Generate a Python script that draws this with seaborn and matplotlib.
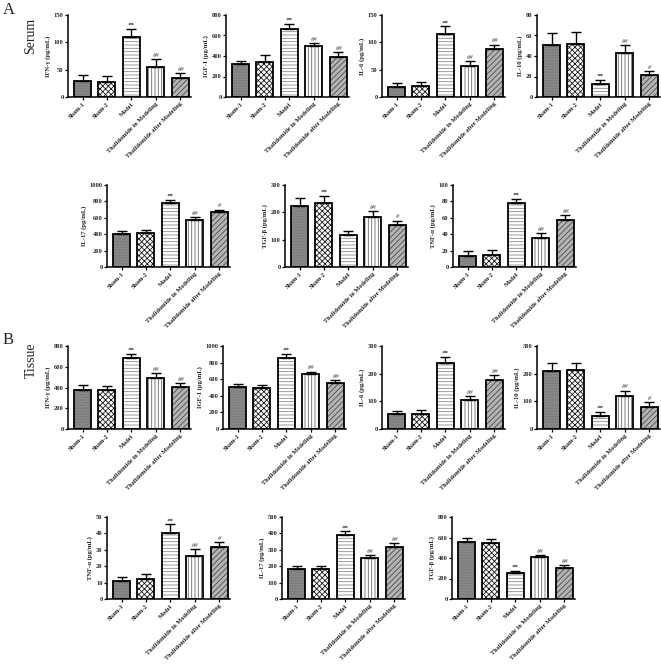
import numpy as np
import pandas as pd
import matplotlib
matplotlib.use("Agg")
import matplotlib.pyplot as plt
import seaborn as sns
from matplotlib.patches import Rectangle

# ---------------- data ----------------
groups = ["Sham-1", "Sham-2", "Model", "Thalidomide in Modeling", "Thalidomide after Modeling"]

# Serum
serum_ifn = [30, 28, 109, 55, 34]
serum_ifn_sd = [10, 11, 16, 15, 10]
serum_ifn_sig = ["", "", "**", "##", "##"]

serum_igf = [325, 340, 660, 495, 390]
serum_igf_sd = [30, 70, 55, 30, 45]
serum_igf_sig = ["", "", "**", "##", "##"]

serum_il6 = [19, 20, 116, 56, 87]
serum_il6_sd = [6, 7, 13, 10, 9]
serum_il6_sig = ["", "", "**", "##", "##"]

serum_il10 = [51, 52, 13, 43, 21.5]
serum_il10_sd = [11, 11, 4, 8, 4]
serum_il10_sig = ["", "", "**", "##", "#"]

serum_il17 = [405, 420, 775, 578, 665]
serum_il17_sd = [28, 30, 40, 32, 35]
serum_il17_sig = ["", "", "**", "##", "#"]

serum_tgf = [223, 235, 118, 184, 154]
serum_tgf_sd = [30, 25, 15, 22, 16]
serum_tgf_sig = ["", "**", "", "##", "#"]

serum_tnf = [13.5, 14.5, 77.5, 35, 57]
serum_tnf_sd = [6, 6, 6, 6, 6]
serum_tnf_sig = ["", "", "**", "##", "##"]

# Tissue
tissue_ifn = [375, 378, 680, 495, 405]
tissue_ifn_sd = [45, 40, 45, 45, 40]
tissue_ifn_sig = ["", "", "**", "##", "##"]

tissue_igf = [505, 490, 860, 660, 550]
tissue_igf_sd = [40, 35, 40, 32, 35]
tissue_igf_sig = ["", "", "**", "##", "##"]

tissue_il6 = [53, 55, 240, 106, 178]
tissue_il6_sd = [11, 12, 20, 14, 16]
tissue_il6_sig = ["", "", "**", "##", "##"]

tissue_il10 = [210, 212, 47, 121, 81]
tissue_il10_sd = [28, 25, 16, 18, 17]
tissue_il10_sig = ["", "", "**", "##", "#"]

tissue_tnf = [11, 12, 40.5, 26, 32]
tissue_tnf_sd = [2.7, 3, 5, 4.3, 2.6]
tissue_tnf_sig = ["", "", "**", "##", "#"]

tissue_il17 = [184, 185, 390, 252, 320]
tissue_il17_sd = [16, 18, 22, 18, 20]
tissue_il17_sig = ["", "", "**", "##", "##"]

tissue_tgf = [555, 548, 250, 405, 305]
tissue_tgf_sd = [40, 35, 25, 20, 22]
tissue_tgf_sig = ["", "", "**", "##", "##"]

# ---------------- style ----------------
sns.set_theme(style="ticks")
plt.rcParams["font.family"] = ["Liberation Serif", "DejaVu Serif"]
plt.rcParams["hatch.linewidth"] = 0.6

face_colors = ["#888888", "#ffffff", "#ffffff", "#ffffff", "#b4b4b4"]
hatches = ["......", "xxxxxx", "-----", "|||||", "//////"]
hatch_colors = ["#727272", "#1a1a1a", "#8a8a8a", "#6a6a6a", "#4a4a4a"]

FW, FH = 661, 668
fig = plt.figure(figsize=(FW / 100, FH / 100), dpi=100)

rows_px = [(15, 97), (185, 267), (346, 429), (517, 599)]
lefts_px = [[68, 226, 382, 537], [107, 285, 453], [68, 223, 382, 537], [107, 282, 452]]
AX_W = 123

panels = [
    [("IFN-γ (pg/mL)", serum_ifn, serum_ifn_sd, serum_ifn_sig, 150, 50),
     ("IGF-1 (pg/mL)", serum_igf, serum_igf_sd, serum_igf_sig, 800, 200),
     ("IL-6 (pg/mL)", serum_il6, serum_il6_sd, serum_il6_sig, 150, 50),
     ("IL-10 (pg/mL)", serum_il10, serum_il10_sd, serum_il10_sig, 80, 20)],
    [("IL-17 (pg/mL)", serum_il17, serum_il17_sd, serum_il17_sig, 1000, 200),
     ("TGF-β (pg/mL)", serum_tgf, serum_tgf_sd, serum_tgf_sig, 300, 100),
     ("TNF-α (pg/mL)", serum_tnf, serum_tnf_sd, serum_tnf_sig, 100, 20)],
    [("IFN-γ (pg/mL)", tissue_ifn, tissue_ifn_sd, tissue_ifn_sig, 800, 200),
     ("IGF-1 (pg/mL)", tissue_igf, tissue_igf_sd, tissue_igf_sig, 1000, 200),
     ("IL-6 (pg/mL)", tissue_il6, tissue_il6_sd, tissue_il6_sig, 300, 100),
     ("IL-10 (pg/mL)", tissue_il10, tissue_il10_sd, tissue_il10_sig, 300, 100)],
    [("TNF-α (pg/mL)", tissue_tnf, tissue_tnf_sd, tissue_tnf_sig, 50, 10),
     ("IL-17 (pg/mL)", tissue_il17, tissue_il17_sd, tissue_il17_sig, 500, 100),
     ("TGF-β (pg/mL)", tissue_tgf, tissue_tgf_sd, tissue_tgf_sig, 800, 200)],
]


def draw(ax, ylabel, means, sds, sig, ymax, step):
    df = pd.DataFrame({"group": groups, "value": means})
    sns.barplot(data=df, x="group", y="value", hue="group", order=groups,
                hue_order=groups, palette=face_colors, legend=False,
                width=0.7, errorbar=None, saturation=1, ax=ax)
    bars = list(ax.patches)
    for p, h, hc in zip(bars, hatches, hatch_colors):
        p.set_hatch(h)
        p.set_edgecolor(hc)
        p.set_linewidth(0)
        ax.add_patch(Rectangle((p.get_x(), p.get_y()), p.get_width(), p.get_height(),
                               fill=False, edgecolor="black", linewidth=1.3,
                               zorder=p.get_zorder() + 0.1))
    xs = [p.get_x() + p.get_width() / 2 for p in bars]
    ax.errorbar(xs, means, yerr=[np.zeros(len(means)), sds], fmt="none",
                ecolor="black", elinewidth=1.0, capsize=3.4, capthick=1.0, zorder=6)
    for x, m, s, t in zip(xs, means, sds, sig):
        if t:
            col = "#333333" if t.startswith("*") else "#707070"
            ax.annotate(t, (x, m + s), xytext=(0, 0.8), textcoords="offset points",
                        ha="center", va="bottom", fontsize=4.8, color=col,
                        fontweight="bold", fontstyle="italic")
    ax.set_xlim(-0.6, 4.45)
    ax.set_ylim(0, ymax)
    ax.set_yticks(np.arange(0, ymax + step / 2, step))
    ax.set_xticks(range(len(groups)))
    ax.set_xticklabels(groups, rotation=45, ha="right", rotation_mode="anchor",
                       fontsize=4.6, fontweight="bold")
    for lab in ax.get_yticklabels():
        lab.set_fontsize(4.7)
        lab.set_fontweight("bold")
    ax.set_xlabel("")
    ax.set_ylabel(ylabel, fontsize=4.8, fontweight="bold", labelpad=2)
    ax.tick_params(axis="both", length=2, width=0.9, pad=1.2, color="black")
    sns.despine(ax=ax)
    for sp in ("left", "bottom"):
        ax.spines[sp].set_linewidth(1.1)
        ax.spines[sp].set_color("black")
    ax.set_facecolor("none")


for r, (row_panels, (top, bot)) in enumerate(zip(panels, rows_px)):
    for c, spec in enumerate(row_panels):
        left = lefts_px[r][c]
        ax = fig.add_axes([left / FW, 1 - bot / FH, AX_W / FW, (bot - top) / FH])
        draw(ax, *spec)

fig.text(3 / FW, 1 - 10 / FH, "A", fontsize=12, ha="left", va="center")
fig.text(31 / FW, 1 - 36 / FH, "Serum", fontsize=10, rotation=90, ha="center", va="center")
fig.text(3 / FW, 1 - 340 / FH, "B", fontsize=12, ha="left", va="center")
fig.text(31 / FW, 1 - 360 / FH, "Tissue", fontsize=10, rotation=90, ha="center", va="center")

fig.savefig("out.png", dpi=100, facecolor="white")
